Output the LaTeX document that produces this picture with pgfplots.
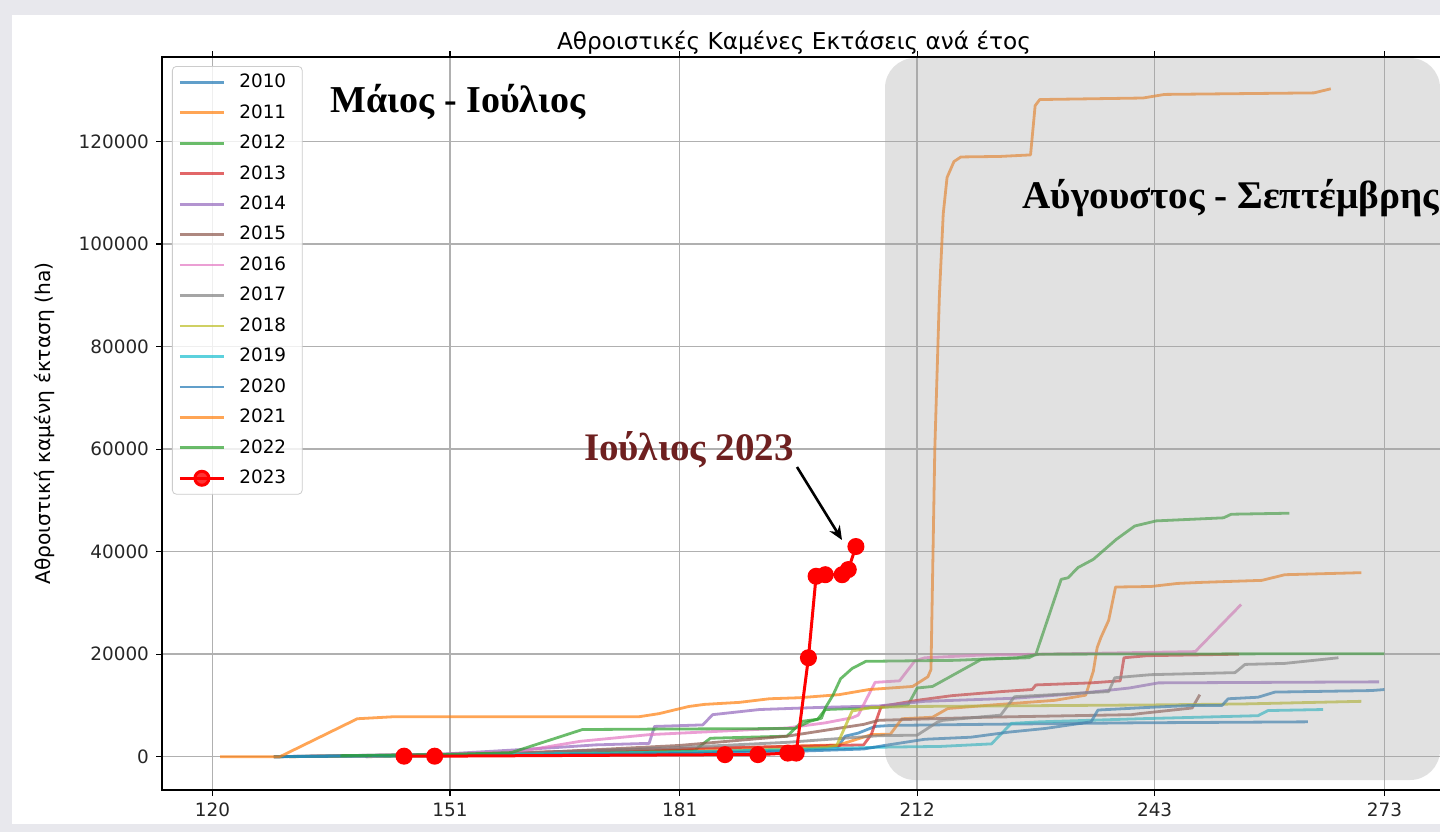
\documentclass[border=0pt]{standalone}
\usepackage{fontspec}
\setmainfont{DejaVu Sans}
\newfontfamily\annofont{Liberation Serif}
\usepackage{pgfplots}
\pgfplotsset{compat=1.18}
\usetikzlibrary{arrows.meta}

\definecolor{tabblue}{RGB}{31,119,180}
\definecolor{taborange}{RGB}{255,127,14}
\definecolor{tabgreen}{RGB}{44,160,44}
\definecolor{tabred}{RGB}{214,39,40}
\definecolor{tabpurple}{RGB}{148,103,189}
\definecolor{tabbrown}{RGB}{140,86,75}
\definecolor{tabpink}{RGB}{227,119,194}
\definecolor{tabgray}{RGB}{127,127,127}
\definecolor{tabolive}{RGB}{188,189,34}
\definecolor{tabcyan}{RGB}{23,190,207}
\definecolor{framegray}{RGB}{232,232,237}
\definecolor{annored}{RGB}{110,32,32}

\pgfplotsset{yr/.style={draw=#1, line width=1.4pt, draw opacity=0.7, no marks, line join=round}}

\begin{document}
\begin{tikzpicture}[x=0.5pt,y=0.5pt]
\useasboundingbox (0,0) rectangle (1440,832);
\fill[framegray] (0,0) rectangle (1440,832);
\fill[white] (12,8) rectangle (1440,817);
\begin{axis}[
  at={(81pt,21pt)}, anchor=south west,
  scale only axis, width=640.3pt, height=366.5pt,
  xmin=113.4, xmax=280.6, ymin=-6500, ymax=136500,
  xtick={120,151,181,212,243,273},
  ytick={0,20000,40000,60000,80000,100000,120000},
  scaled y ticks=false,
  /pgf/number format/.cd, fixed, precision=0, 1000 sep={}, assume math mode=true, /pgfplots/.cd,
  ticklabel style={font=\fontsize{9.2}{11}\selectfont, color=black!85},
  tick align=outside, major tick length=3pt,
  tick style={line width=0.6pt, black},
  axis line style={line width=0.6pt, black},
  grid=major, grid style={color=black!31, line width=0.7pt},
  title={Αθροιστικές Καμένες Εκτάσεις ανά έτος},
  title style={font=\fontsize{11.6}{13}\selectfont, at={(0.4935,1)}, anchor=south, yshift=-8.3pt},
  every axis y label/.style={at={(axis description cs:-0.0914,0.5)}, rotate=90, anchor=center},
  ylabel={Αθροιστική καμένη έκταση (ha)},
  ylabel style={font=\fontsize{10.1}{12}\selectfont},
  legend cell align=left,
  legend image code/.code={\draw[mark repeat=2,mark phase=2,#1] plot coordinates {(0pt,0pt) (11pt,0pt) (22pt,0pt)};},
  legend style={at={(0.0078,0.9877)}, anchor=north west, draw=black!20, rounded corners=2pt,
    fill=white, fill opacity=0.8, draw opacity=1, text opacity=1,
    font=\fontsize{9.2}{11}\selectfont, inner xsep=3pt, inner ysep=1.8pt,
    row sep=2.9pt, column sep=5pt},
]
% 2010
\addplot[yr=tabblue] coordinates {(128,0) (150,300) (170,700) (185,1000) (195,1300) (201.7,2000) (202.6,4000) (204.3,4600) (206.5,5900) (208.6,6100) (220,6300) (240,6600) (263,6800)};
% 2011
\addplot[yr=taborange] coordinates {(128,0) (150,300) (170,800) (185,1500) (196.6,2100) (201.8,2300) (206,4300) (208.5,4400) (210,7400) (214,7700) (216,9400) (221,10000) (230,11000) (234,12000) (235,16700) (235.5,21300) (236,23300) (237,26600) (237.9,33100) (242.5,33200) (246,33800) (249,34000) (257,34400) (260,35500) (270,35900)};
% 2012
\addplot[yr=tabgreen] coordinates {(140,0) (150,200) (165,600) (170,1000) (183,1300) (185,3600) (195,4000) (197,6900) (199,7300) (200,9200) (207,9600) (210.8,10100) (212,13400) (214,13700) (220.4,19000) (226.6,19300) (227.5,20000) (230.8,34600) (231.7,34900) (233,36900) (235,38500) (238,42400) (240.4,45000) (243.2,46000) (252,46600) (253,47300) (260.6,47500)};
% 2013
\addplot[yr=tabred] coordinates {(130,0) (150,400) (170,1200) (185,1700) (195,2000) (205,2300) (206,4300) (207.3,9800) (212,11000) (216.5,11900) (223,12700) (227,13100) (227.5,14000) (234.7,14400) (238.5,14800) (239,19300) (242,19700) (254,20000)};
% 2014
\addplot[yr=tabpurple] coordinates {(128,0) (150,500) (165,1800) (170,2300) (177,2600) (177.7,5900) (184,6200) (185.3,8200) (191.4,9200) (199,9600) (207,9900) (213,10800) (224.7,11400) (232,12200) (236,12800) (239.7,13400) (243.5,14400) (272.3,14600)};
% 2015
\addplot[yr=tabbrown] coordinates {(128,0) (160,600) (181,2200) (195,4000) (205,6300) (207,7100) (221,7700) (240,8200) (241,8400) (247.9,9500) (248.9,12100)};
% 2016
\addplot[yr=tabpink] coordinates {(140,0) (160,1000) (168,3000) (177,4300) (195,5600) (200,6600) (203.5,7600) (204.3,8100) (206.5,14500) (209.7,14800) (211.7,18700) (213,19300) (220,19800) (248.3,20500) (254.3,29700)};
% 2017
\addplot[yr=tabgray] coordinates {(128,0) (160,700) (181,1800) (195,2800) (207,4100) (212,4200) (214.7,6800) (215.4,7100) (222.9,8100) (224.7,11700) (237,12700) (237.8,15400) (242.5,16000) (253.5,16400) (254.8,18000) (260,18200) (267,19300)};
% 2018
\addplot[yr=tabolive] coordinates {(130,0) (180,700) (200,1800) (201.5,2200) (203.5,8900) (206,9600) (212,9800) (243,10100) (255,10300) (270,10800)};
% 2019
\addplot[yr=tabcyan] coordinates {(128,0) (160,500) (180,900) (200,1500) (207,1850) (215,2000) (221.7,2500) (224.3,6500) (228,6800) (241,7400) (256.5,8000) (257.8,9000) (265,9200)};
% 2020
\addplot[yr=tabblue] coordinates {(128,0) (160,300) (180,600) (195,1000) (205,1500) (207.8,2200) (213,3400) (219,3800) (224,4800) (228.7,5500) (234.7,6800) (235.6,9100) (242,9600) (247.8,10000) (251.8,10000) (252.6,11300) (256.5,11600) (258.7,12600) (271.3,12900) (273,13100)};
% 2021
\addplot[yr=taborange] coordinates {(121,0) (128.8,0) (138.9,7400) (143.7,7800) (175.7,7800) (178.3,8400) (182.2,9800) (184.2,10200) (188.8,10600) (192.7,11300) (196.6,11500) (201.8,12100) (205.7,13100) (211.4,13700) (213.4,15600) (213.8,17000) (214.3,60000) (214.9,90000) (215.4,105900) (215.9,113000) (216.8,116100) (217.7,117000) (222.8,117100) (226.8,117400) (227.4,127000) (228,128200) (241.5,128500) (244.3,129200) (263.8,129500) (266,130300)};
% 2022
\addplot[yr=tabgreen] coordinates {(136.7,200) (150,400) (159,800) (168.3,5300) (180,5400) (196,5500) (198,6900) (199.5,7500) (200,9500) (201,12000) (202,15200) (203.5,17200) (205.3,18600) (217,18800) (225,19300) (228,20000) (273,20100)};
% 2023
\addplot[draw=red, line width=1.5pt, mark=*, mark size=3.5pt, mark options={fill=red, draw=red}] coordinates {(145,100) (149,100) (186.9,400) (191.2,400) (195.1,700) (196.2,700) (197.8,19300) (198.8,35200) (200.0,35500) (202.2,35500) (203.0,36500) (204.0,41000)};
\legend{2010\kern3pt,2011,2012,2013,2014,2015,2016,2017,2018,2019,2020,2021,2022,2023}
\end{axis}
\fill[black!37, opacity=0.31, rounded corners=15pt] (885,52) rectangle (1440,774);
\node[font=\annofont\bfseries\fontsize{19}{22}\selectfont, anchor=center] at (458,730) {Μάιος - Ιούλιος};
\node[font=\annofont\bfseries\fontsize{19.6}{22}\selectfont, anchor=west, inner sep=0pt] at (1022,634) {Αύγουστος - Σεπτέμβρης};
\node[font=\annofont\bfseries\fontsize{19.5}{22}\selectfont, anchor=center, text=annored] at (689,382) {Ιούλιος 2023};
\draw[line width=1.3pt, -{Stealth[length=7pt,width=6pt]}] (797,365) -- (842,292);
\end{tikzpicture}
\end{document}
